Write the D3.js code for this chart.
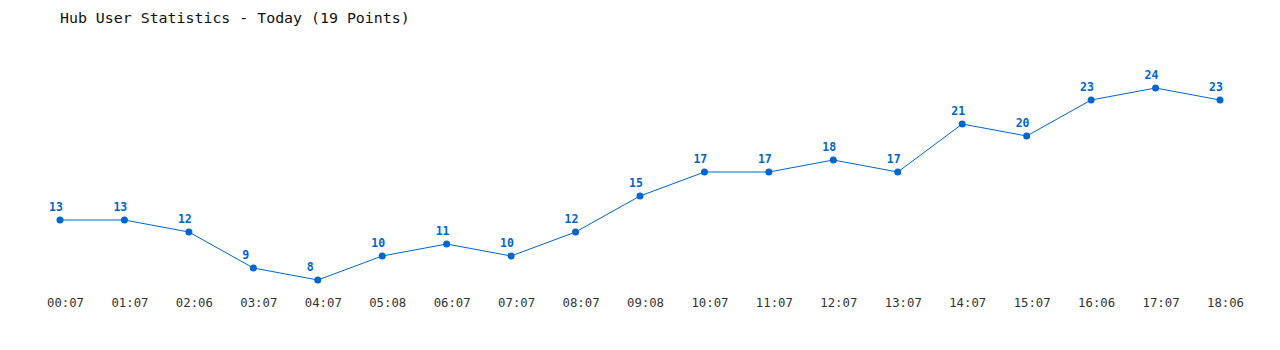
<!DOCTYPE html>
<html><head><meta charset="utf-8">
<script src="https://cdn.jsdelivr.net/npm/d3@7"></script>
<style>body{margin:0;background:#fff}svg{display:block}</style>
</head><body>
<svg id="c" width="1280" height="350"></svg>
<script>
const title = "Hub User Statistics - Today (19 Points)";
const times = ["00:07","01:07","02:06","03:07","04:07","05:08","06:07","07:07","08:07","09:08","10:07","11:07","12:07","13:07","14:07","15:07","16:06","17:07","18:06"];
const users = [13,13,12,9,8,10,11,10,12,15,17,17,18,17,21,20,23,24,23];

const svg = d3.select("#c");
const x = d3.scalePoint().domain(times).range([60,1220]);
const y = d3.scaleLinear().domain([8,24]).range([280,88]);
const blue = "#0066cc";
const mono = "'DejaVu Sans Mono', 'Liberation Mono', monospace";

svg.append("text").attr("x",60).attr("y",23).attr("font-family",mono)
  .attr("font-size","14.9px").attr("fill","#111").text(title);

svg.append("path").datum(users.map((v,i)=>[times[i],v]))
  .attr("fill","none").attr("stroke",blue).attr("stroke-width",1)
  .attr("d", d3.line().x(d=>x(d[0])).y(d=>y(d[1])));

svg.selectAll("circle.pt").data(users).join("circle")
  .attr("cx",(d,i)=>x(times[i])).attr("cy",d=>y(d)).attr("r",3.5).attr("fill",blue);

svg.selectAll("text.val").data(users).join("text")
  .attr("x",(d,i)=>x(times[i])-11).attr("y",d=>y(d)-9)
  .attr("font-family",mono).attr("font-size","11.5px").attr("font-weight","bold")
  .attr("fill",blue).text(d=>d);

const ax = d3.axisBottom(x).tickSize(0).tickPadding(0);
const g = svg.append("g").attr("transform","translate(5,307)").call(ax);
g.select(".domain").remove();
g.selectAll("text").attr("dy",0).attr("font-family",mono).attr("font-size","12.3px").attr("fill","#333");
</script>
</body></html>
